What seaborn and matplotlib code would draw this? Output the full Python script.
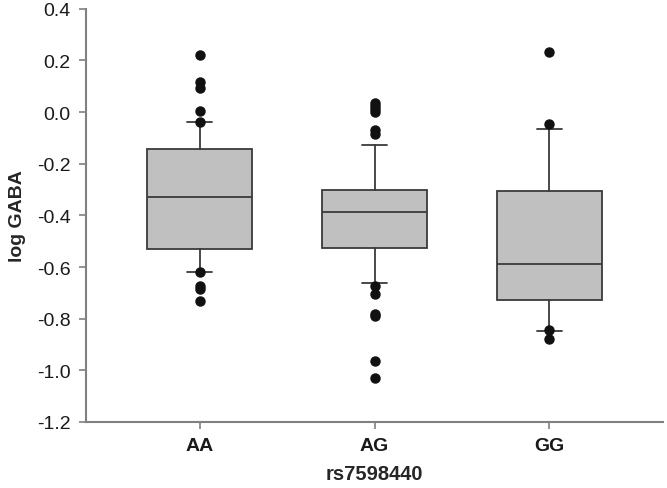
import matplotlib
matplotlib.use("Agg")
import matplotlib.pyplot as plt
import seaborn as sns

# genotype groups
genotypes = ["AA", "AG", "GG"]

# box summary values (whiskers = 10th/90th pct)
q1 = [-0.53, -0.527, -0.729]
medians = [-0.33, -0.387, -0.587]
q3 = [-0.144, -0.302, -0.305]
whisker_low = [-0.62, -0.66, -0.848]
whisker_high = [-0.04, -0.128, -0.066]

# points beyond the whiskers
outliers_aa = [0.22, 0.116, 0.093, 0.004, -0.04, -0.62, -0.674, -0.686, -0.733]
outliers_ag = [0.035, 0.022, 0.01, 0.0, -0.07, -0.085,
               -0.674, -0.705, -0.78, -0.79, -0.965, -1.03]
outliers_gg = [0.233, -0.047, -0.845, -0.88]
outliers = [outliers_aa, outliers_ag, outliers_gg]

sns.set_style("ticks")
plt.rcParams["font.family"] = ["Liberation Sans", "DejaVu Sans"]

fig = plt.figure(figsize=(6.67, 4.89), dpi=100)
ax = fig.add_axes([0.129, 0.135, 0.865, 0.845])

stats = []
for i, g in enumerate(genotypes):
    stats.append({
        "label": g,
        "q1": q1[i],
        "med": medians[i],
        "q3": q3[i],
        "whislo": whisker_low[i],
        "whishi": whisker_high[i],
        "fliers": outliers[i],
    })

line_col = "#3a3a3a"
ax.bxp(stats, positions=range(len(genotypes)), widths=0.6,
       capwidths=0.14, patch_artist=True, showfliers=True,
       boxprops=dict(facecolor="#c0c0c0", edgecolor=line_col, linewidth=1.3),
       medianprops=dict(color=line_col, linewidth=1.3),
       whiskerprops=dict(color=line_col, linewidth=1.3),
       capprops=dict(color=line_col, linewidth=1.3),
       flierprops=dict(marker="o", markerfacecolor="#111111",
                       markeredgecolor="#111111", markersize=6.5))

ax.set_xlim(-0.65, 2.65)
ax.set_ylim(-1.2, 0.4)
ax.set_yticks([-1.2, -1.0, -0.8, -0.6, -0.4, -0.2, 0.0, 0.2, 0.4])
ax.set_yticklabels([f"{v:.1f}" for v in ax.get_yticks()])
ax.set_xticks(range(len(genotypes)))
ax.set_xticklabels(genotypes, fontweight="bold")

ax.tick_params(axis="both", direction="out", length=5, width=1.2,
               color="#808080", labelsize=14, labelcolor="#1a1a1a", pad=6)
for side in ["left", "bottom"]:
    ax.spines[side].set_color("#808080")
    ax.spines[side].set_linewidth(1.5)
sns.despine(ax=ax)

ax.set_xlabel("rs7598440", fontsize=14.5, fontweight="bold", labelpad=7)
ax.set_ylabel("log GABA", fontsize=14, fontweight="bold", labelpad=8)

fig.savefig("out.png", dpi=100)
